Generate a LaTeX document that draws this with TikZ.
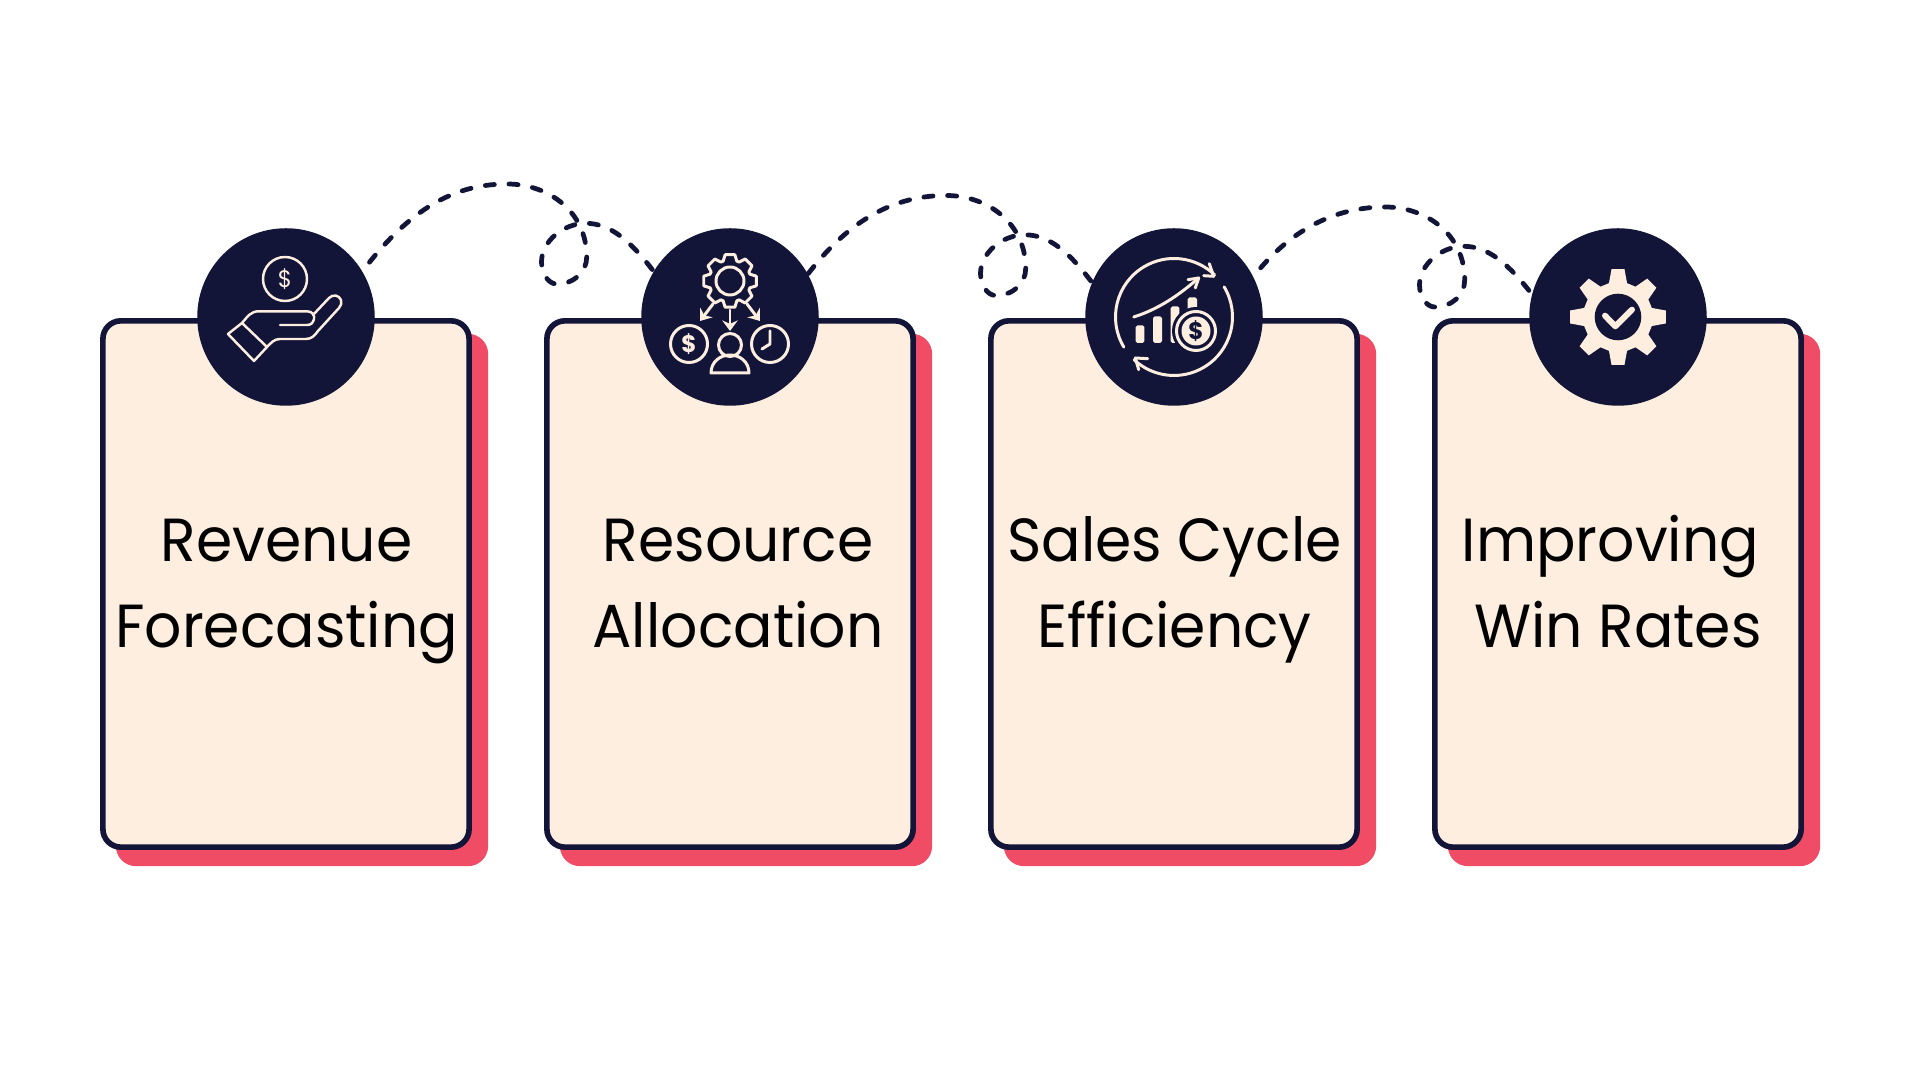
\documentclass[tikz,border=0pt]{standalone}
\usepackage{fontspec}
\setmainfont{Poppins}[FakeStretch=0.96]
\usepackage{xcolor}
\usetikzlibrary{arrows.meta}

\definecolor{navy}{RGB}{18,21,56}
\definecolor{cream}{RGB}{253,238,223}
\definecolor{coral}{RGB}{241,76,101}

\tikzset{
  backbox/.style={fill=coral,rounded corners=0.2cm,minimum width=3.72cm,minimum height=5.32cm,inner sep=0pt},
  cardbox/.style={draw=navy,fill=cream,line width=1.6pt,rounded corners=0.18cm,minimum width=3.66cm,minimum height=5.26cm,inner sep=0pt},
  iconcircle/.style={circle,fill=navy,minimum size=1.774cm,inner sep=0pt},
  cardtext/.style={align=center,anchor=base,inner sep=0pt,text=black,font=\fontsize{17.3pt}{24.47pt}\selectfont},
  dashlink/.style={draw=navy,line width=1.35pt,line cap=round,dash pattern={on 2.6pt off 4.15pt}},
  iconline/.style={draw=cream,line width=0.85pt,line cap=round,line join=round},
  iconfill/.style={fill=cream},
  icontext/.style={inner sep=0pt,text=cream},
}

\begin{document}
\begin{tikzpicture}[x=0.01cm,y=-0.01cm]
\useasboundingbox (0,0) rectangle (1920,1080);

% Red backs of the cards
\node[backbox] (backrev) at (302,600) {};
\node[backbox] (backres) at (746,600) {};
\node[backbox] (backeff) at (1190,600) {};
\node[backbox] (backwin) at (1634,600) {};

% Cards
\node[cardbox] (cardrev) at (286,584) {};
\node[cardbox] (cardres) at (730,584) {};
\node[cardbox] (cardeff) at (1174,584) {};
\node[cardbox] (cardwin) at (1618,584) {};

% Circles on the top edge
\node[iconcircle] (rev) at (286,317) {};
\node[iconcircle] (res) at (730,317) {};
\node[iconcircle] (eff) at (1174,317) {};
\node[iconcircle] (win) at (1618,317) {};

% Card labels
\node[cardtext] (textrev) at (286.7,647.7) {Revenue\\Forecasting};
\node[cardtext] (textres) at (738,647.7) {Resource\\Allocation};
\node[cardtext] (texteff) at (1174.5,647.7) {Sales Cycle\\Efficiency};
\node[cardtext] (textwin) at (1618,647.7) {Improving\hspace*{0.15cm}\\Win Rates};

% Dashed loops between the circles
\foreach \a/\b/\i/\ph in {rev/res/0/3.6pt,res/eff/1/0pt,eff/win/2/3.6pt}{
  \begin{scope}[shift={(\a)},shift={(-5*\i,11.5*\i)}]
    \pgfmathtruncatemacro{\outang}{31-2*\i}
    \pgfmathtruncatemacro{\inang}{149+8*\i}
    \draw[dashlink,dash phase=\ph] (\a.\outang) .. controls (118,-100) and (161,-133) .. (221,-133)
      .. controls (263,-133) and (300.7,-105) .. (300.7,-60)
      .. controls (300.7,-45) and (288,-33) .. (270.7,-33)
      .. controls (262,-33) and (255.5,-44) .. (255.5,-55)
      .. controls (255.5,-76) and (278,-93.7) .. (299.7,-93.7)
      .. controls (325,-93.7) and (345,-75) .. (\b.\inang);
  \end{scope}
}

% Icon: hand and coin
\begin{scope}[shift={(rev)},every path/.append style={line width=0.7pt}]
  \draw[iconline,line width=0.7pt] (-1,-38) circle (22);
  \node[icontext,font=\fontsize{6.8pt}{7pt}\selectfont] (coinrev) at (-1,-38) {\$};
  \draw[iconline,line width=0.7pt] (-58,17) -- (-32,44) -- (-19,30) -- (-44,6) -- cycle;
  \draw[iconline,line width=0.7pt] (-44,6) .. controls (-38,-1) and (-35,-5.7) .. (-27,-5.7) -- (21,-5.7)
    .. controls (26,-5.7) and (29,-2) .. (28,2) .. controls (27,6) and (25,8) .. (21,8) -- (-6,8);
  \draw[iconline,line width=0.7pt] (27,-2) -- (43,-19) .. controls (47,-23) and (53,-22) .. (55,-17)
    .. controls (56,-14) and (55,-11) .. (53,-9) -- (32,14) .. controls (29,18) and (26,22) .. (20,22)
    -- (-6,22) .. controls (-12,22) and (-15,26) .. (-19,30);
\end{scope}

% Icon: gear, coin, person, clock
\begin{scope}[shift={(res)}]
  \begin{scope}[shift={(0,-36)}]
    \draw[iconline] (-19:21) \foreach \t in {0,45,...,315}{
      -- (\t-19:21) -- (\t-10.5:26.7) -- (\t+10.5:26.7) -- (\t+19:21)} -- cycle;
    \draw[iconline] (0,0) circle (14);
  \end{scope}
  \draw[iconline,-{Stealth[length=3pt,width=4.4pt]}] (0,-7) -- (0,14);
  \draw[iconline,-{Stealth[length=3pt,width=4.4pt]}] (-17,-13) -- (-30,4);
  \draw[iconline,-{Stealth[length=3pt,width=4.4pt]}] (17,-13) -- (30,4);
  \draw[iconline] (-41,27) circle (18.5);
  \node[icontext,font=\bfseries\fontsize{6.8pt}{7pt}\selectfont] (coinres) at (-41,27) {\$};
  \draw[iconline] (40,27) circle (18.5);
  \draw[iconline] (40,14) -- (40,27) -- (32,32);
  \draw[iconline] (0,28) circle (11.5);
  \draw[iconline] (-19,56) .. controls (-19,45) and (-10,38) .. (0,38)
    .. controls (10,38) and (19,45) .. (19,56) -- cycle;
\end{scope}

% Icon: chart in a cycle
\begin{scope}[shift={(eff)}]
  \draw[iconline] (149:58.5) arc[start angle=149,end angle=314,radius=58.5];
  \draw[iconline] (29.7,-41.3) -- (39.7,-40.7) -- (35.3,-53.3);
  \draw[iconline] (-31:58.5) arc[start angle=-31,end angle=133,radius=58.5];
  \draw[iconline] (-26.3,41.7) -- (-38.7,41) -- (-35.3,52.7);
  \draw[iconline] (-40.3,0) .. controls (-15,-8) and (5,-22) .. (24.7,-39);
  \draw[iconline] (14,-37.3) -- (24.7,-39) -- (21.3,-29);
  \fill[iconfill,rounded corners=0.5pt] (-38.3,8.3) rectangle (-29.7,26);
  \fill[iconfill,rounded corners=0.5pt] (-21,-0.7) rectangle (-12,26);
  \fill[iconfill,rounded corners=0.5pt] (-3.3,-10.7) rectangle (5.3,26);
  \fill[iconfill,rounded corners=0.5pt] (13.7,-19.7) rectangle (23,-5);
  \fill[navy] (22,14) circle (24);
  \draw[iconline] (22,14) circle (19.5);
  \fill[iconfill] (22,14) circle (14.5);
  \node[inner sep=0pt,text=navy,font=\bfseries\fontsize{6.8pt}{7pt}\selectfont] (coineff) at (22,14) {\$};
\end{scope}

% Icon: solid gear with a check
\begin{scope}[shift={(win)}]
  \fill[iconfill] (-15:35) \foreach \t in {0,45,...,315}{
    -- (\t-15:35) -- (\t-7.7:48.3) -- (\t+7.7:48.3) -- (\t+15:35)} -- cycle;
  \fill[navy] (0,0) circle (23.3);
  \draw[iconline,line width=1.7pt] (-13,-1.3) -- (-2.7,9.3) -- (14,-7.3);
\end{scope}
\end{tikzpicture}
\end{document}
